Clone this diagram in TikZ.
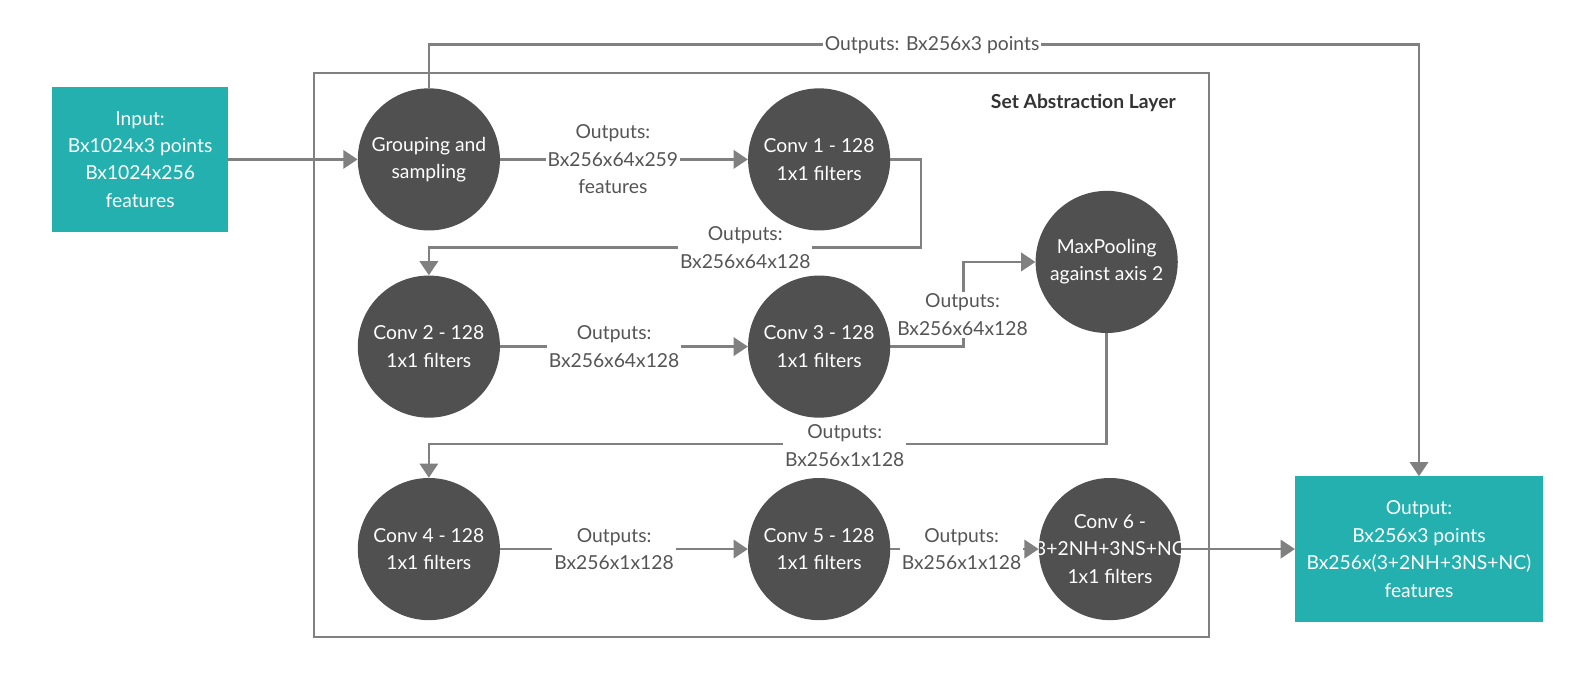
\documentclass[tikz,border=0pt]{standalone}
\usepackage{fontspec}
\setmainfont{Lato}
\usetikzlibrary{positioning,arrows.meta}

\definecolor{tealbox}{RGB}{35,176,174}
\definecolor{disk}{RGB}{80,80,80}
\definecolor{wire}{RGB}{128,128,128}
\definecolor{txt}{RGB}{85,85,85}

\pgfdeclarelayer{bg}
\pgfsetlayers{bg,main}

\tikzset{
    box/.style={fill=tealbox, text=white, minimum width=173pt, minimum height=143pt, align=center, inner sep=0pt},
    disc/.style={circle, fill=disk, text=white, minimum size=140pt, inner sep=0pt, align=center},
    lbl/.style={fill=white, text=txt, align=center, inner sep=2pt},
    link/.style={draw=wire, line width=2.5pt, -{Triangle[length=14pt,width=18pt]}},
}

\begin{document}
\begin{tikzpicture}[x=1pt, y=1pt, every node/.style={font=\fontsize{19}{27}\selectfont}]
    \useasboundingbox (0,0) rectangle (1568,666);

    % layer frame
    \draw[wire, line width=2pt] (309,39) rectangle (1191,594);
    \node[font=\fontsize{19}{27}\selectfont\bfseries, text=black!80] (title) at (1067,565) {Set Abstraction Layer};

    \node[box] (in) at (138,509) {Input:\\Bx1024x3 points\\Bx1024x256\\features};
    \node[disc, right=127.5pt of in] (grp) {Grouping and\\sampling};
    \node[disc, right=244pt of grp] (c1) {Conv 1 - 128\\1x1 filters};

    \node[disc, below=44pt of grp] (c2) {Conv 2 - 128\\1x1 filters};
    \node[disc, right=244pt of c2] (c3) {Conv 3 - 128\\1x1 filters};
    \node[disc] (mp) at (1090,408) {MaxPooling\\against axis 2};

    \node[disc, below=59pt of c2] (c4) {Conv 4 - 128\\1x1 filters};
    \node[disc, right=244pt of c4] (c5) {Conv 5 - 128\\1x1 filters};
    \node[disc, right=146pt of c5, inner sep=-30pt] (c6) {Conv 6 -\\3+2NH+3NS+NC\\1x1 filters};

    \node[box, right=112pt of c6, minimum width=244pt] (out) {Output:\\Bx256x3 points\\Bx256x(3+2NH+3NS+NC)\\features};

    % connectors, kept behind the discs
    \begin{pgfonlayer}{bg}
    \draw[link] (in) -- (grp);
    \draw[link] (grp) -- node[lbl, pos=0.455] (l1) {Outputs:\\Bx256x64x259\\features} (c1);
    \draw[link] (c1.east) -- ++(30,0) -- ++(0,-87) -| (c2.north);
    \draw[link] (c2) -- node[lbl, pos=0.46] (l3) {Outputs:\\Bx256x64x128} (c3);
    \draw[link] (c3.east) -- ++(72,0) |- (mp.west);
    \draw[link] (mp.south) -- ++(0,-109) -| (c4.north);
    \draw[link] (c4) -- node[lbl, pos=0.46] (l6) {Outputs:\\Bx256x1x128} (c5);
    \draw[link] (c5) -- node[lbl, pos=0.48] (l7) {Outputs:\\Bx256x1x128} (c6);
    \draw[link] (c6) -- (out);
    \draw[link] (grp.north) -- ++(0,43) -| (out.north);

    \node[lbl] (l2) at (734,422) {Outputs:\\Bx256x64x128};
    \node[lbl] (l4) at (948,356) {Outputs:\\Bx256x64x128};
    \node[lbl] (l5) at (832,227) {Outputs:\\Bx256x1x128};
    \node[lbl] (l0) at (918,622) {Outputs: Bx256x3 points};
    \end{pgfonlayer}
\end{tikzpicture}
\end{document}
